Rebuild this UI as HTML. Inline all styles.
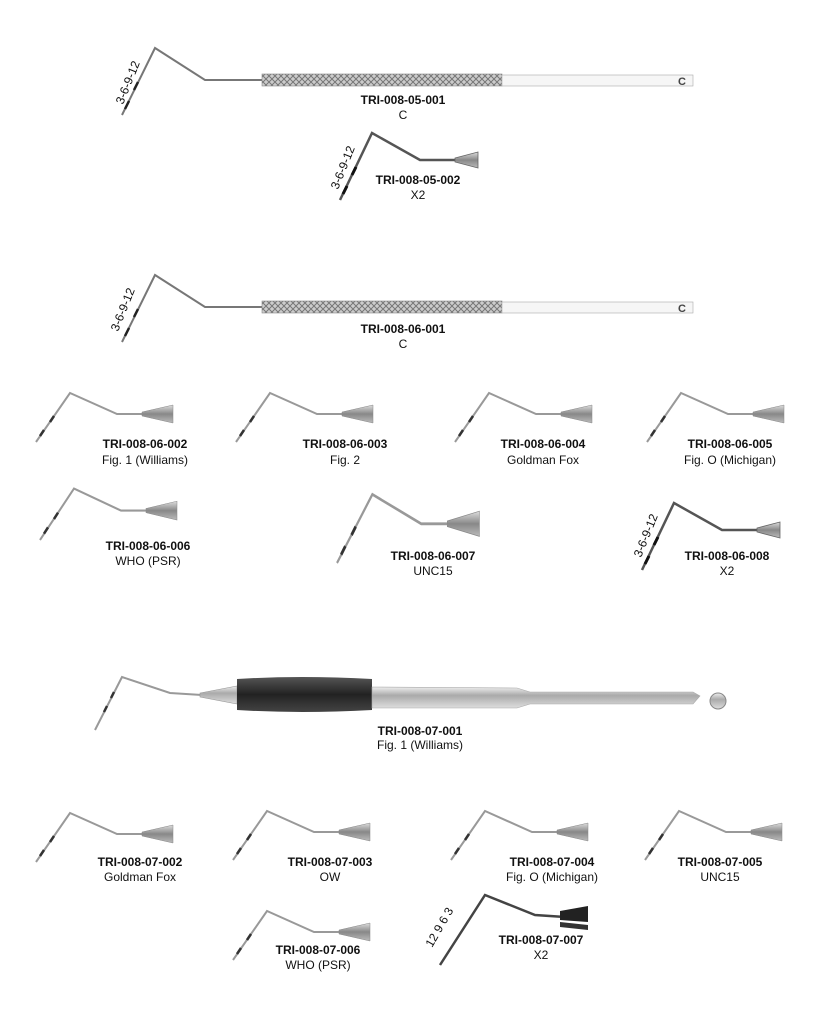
<!DOCTYPE html>
<html><head><meta charset="utf-8"><style>
html,body{margin:0;padding:0;background:#fff}
svg{display:block}
text{font-family:"Liberation Sans",sans-serif;fill:#111}
.b{font-weight:bold;font-size:12px}
.r{font-size:12px}
.m{font-size:12px}
</style></head><body>
<svg width="819" height="1024" viewBox="0 0 819 1024" xmlns="http://www.w3.org/2000/svg">
<defs>
<linearGradient id="cone" x1="0" y1="0" x2="0" y2="1">
<stop offset="0" stop-color="#ddd"/><stop offset="0.5" stop-color="#888"/><stop offset="1" stop-color="#bbb"/></linearGradient>
<linearGradient id="met" x1="0" y1="0" x2="0" y2="1">
<stop offset="0" stop-color="#eee"/><stop offset="0.4" stop-color="#aaa"/><stop offset="1" stop-color="#ddd"/></linearGradient>
<linearGradient id="grip" x1="0" y1="0" x2="0" y2="1">
<stop offset="0" stop-color="#555"/><stop offset="0.5" stop-color="#222"/><stop offset="1" stop-color="#444"/></linearGradient>
<pattern id="knurl" width="6" height="6" patternUnits="userSpaceOnUse">
<rect width="6" height="6" fill="#ccc"/><path d="M0 0L6 6M6 0L0 6" stroke="#777" stroke-width="1"/></pattern>
<g id="sp">
<path d="M0 0L34 -49L81 -28L106 -28" fill="none" stroke="#999" stroke-width="2"/>
<path d="M4 -6L8 -12M14 -20L18 -26" stroke="#333" stroke-width="2.5"/>
<path d="M106 -30L137 -37L137 -19L106 -26Z" fill="url(#cone)" stroke="#888" stroke-width="0.5"/>
</g>
<g id="x2">
<path d="M0 0L32 -67L80 -40L115 -40" fill="none" stroke="#555" stroke-width="2.5"/>
<path d="M3 -6L7 -14M12 -25L16 -33" stroke="#111" stroke-width="3"/>
<path d="M115 -42L138 -48L138 -32L115 -38Z" fill="url(#cone)" stroke="#666" stroke-width="0.8"/>
</g>
<g id="big">
<path d="M0 0L33 -67L83 -35L140 -35" fill="none" stroke="#777" stroke-width="2"/>
<path d="M3 -6L7 -14M12 -25L16 -33" stroke="#222" stroke-width="2.5"/>
<rect x="140" y="-41" width="240" height="12" fill="url(#knurl)" stroke="#888" stroke-width="0.6"/>
<rect x="380" y="-40" width="191" height="11" fill="#f6f6f6" stroke="#aaa" stroke-width="0.6"/>
<text x="556" y="-30" font-size="11" font-weight="bold" style="fill:#444">C</text>
</g>
</defs>

<!-- 05-001 -->
<use href="#big" x="122" y="115"/>
<text class="m" transform="translate(123,105) rotate(-68)">3-6-9-12</text>
<text class="b" x="403" y="104" text-anchor="middle">TRI-008-05-001</text>
<text class="r" x="403" y="119" text-anchor="middle">C</text>

<!-- 05-002 -->
<use href="#x2" x="340" y="200"/>
<text class="m" transform="translate(338,190) rotate(-68)">3-6-9-12</text>
<text class="b" x="418" y="184" text-anchor="middle">TRI-008-05-002</text>
<text class="r" x="418" y="199" text-anchor="middle">X2</text>

<!-- 06-001 -->
<use href="#big" x="122" y="342"/>
<text class="m" transform="translate(118,332) rotate(-68)">3-6-9-12</text>
<text class="b" x="403" y="333" text-anchor="middle">TRI-008-06-001</text>
<text class="r" x="403" y="348" text-anchor="middle">C</text>

<!-- 06 row 1 -->
<use href="#sp" x="36" y="442"/>
<text class="b" x="145" y="448" text-anchor="middle">TRI-008-06-002</text>
<text class="r" x="145" y="464" text-anchor="middle">Fig. 1 (Williams)</text>
<use href="#sp" x="236" y="442"/>
<text class="b" x="345" y="448" text-anchor="middle">TRI-008-06-003</text>
<text class="r" x="345" y="464" text-anchor="middle">Fig. 2</text>
<use href="#sp" x="455" y="442"/>
<text class="b" x="543" y="448" text-anchor="middle">TRI-008-06-004</text>
<text class="r" x="543" y="464" text-anchor="middle">Goldman Fox</text>
<use href="#sp" x="647" y="442"/>
<text class="b" x="730" y="448" text-anchor="middle">TRI-008-06-005</text>
<text class="r" x="730" y="464" text-anchor="middle">Fig. O (Michigan)</text>

<!-- 06 row 2 -->
<g transform="translate(40,540) scale(1,1.05)"><use href="#sp"/></g>
<text class="b" x="148" y="550" text-anchor="middle">TRI-008-06-006</text>
<text class="r" x="148" y="565" text-anchor="middle">WHO (PSR)</text>
<g transform="translate(337,563) scale(1.04,1.4)"><use href="#sp"/></g>
<text class="b" x="433" y="560" text-anchor="middle">TRI-008-06-007</text>
<text class="r" x="433" y="575" text-anchor="middle">UNC15</text>
<use href="#x2" x="642" y="570"/>
<text class="m" transform="translate(641,558) rotate(-68)">3-6-9-12</text>
<text class="b" x="727" y="560" text-anchor="middle">TRI-008-06-008</text>
<text class="r" x="727" y="575" text-anchor="middle">X2</text>

<!-- 07-001 -->
<path d="M95 730L122 677L170 693L202 695" fill="none" stroke="#999" stroke-width="2"/>
<path d="M104 712L107 706M111 698L114 692" stroke="#333" stroke-width="2.5"/>
<path d="M200 693L237 686L237 704L200 697Z" fill="url(#met)" stroke="#999" stroke-width="0.6"/>
<path d="M237 679Q300 675 372 679L372 710Q300 714 237 710Z" fill="url(#grip)"/>
<path d="M372 687L517 688L530 692L693 692L700 696L693 704L530 704L517 708L372 708Z" fill="url(#met)" stroke="#aaa" stroke-width="0.6"/>
<circle cx="718" cy="701" r="8" fill="url(#met)" stroke="#888"/>
<text class="b" x="420" y="735" text-anchor="middle">TRI-008-07-001</text>
<text class="r" x="420" y="749" text-anchor="middle">Fig. 1 (Williams)</text>

<!-- 07 row 1 -->
<use href="#sp" x="36" y="862"/>
<text class="b" x="140" y="866" text-anchor="middle">TRI-008-07-002</text>
<text class="r" x="140" y="881" text-anchor="middle">Goldman Fox</text>
<use href="#sp" x="233" y="860"/>
<text class="b" x="330" y="866" text-anchor="middle">TRI-008-07-003</text>
<text class="r" x="330" y="881" text-anchor="middle">OW</text>
<use href="#sp" x="451" y="860"/>
<text class="b" x="552" y="866" text-anchor="middle">TRI-008-07-004</text>
<text class="r" x="552" y="881" text-anchor="middle">Fig. O (Michigan)</text>
<use href="#sp" x="645" y="860"/>
<text class="b" x="720" y="866" text-anchor="middle">TRI-008-07-005</text>
<text class="r" x="720" y="881" text-anchor="middle">UNC15</text>

<!-- 07 row 2 -->
<use href="#sp" x="233" y="960"/>
<text class="b" x="318" y="954" text-anchor="middle">TRI-008-07-006</text>
<text class="r" x="318" y="969" text-anchor="middle">WHO (PSR)</text>
<path d="M440 965L485 895L535 915L565 917" fill="none" stroke="#444" stroke-width="2.5"/>
<path d="M560 911L588 906L588 922L560 920Z" fill="#222"/>
<path d="M560 922L588 925L588 930L560 927Z" fill="#333"/>
<text class="m" transform="translate(432,948) rotate(-60)">12 9 6 3</text>
<text class="b" x="541" y="944" text-anchor="middle">TRI-008-07-007</text>
<text class="r" x="541" y="959" text-anchor="middle">X2</text>
</svg>
</body></html>
